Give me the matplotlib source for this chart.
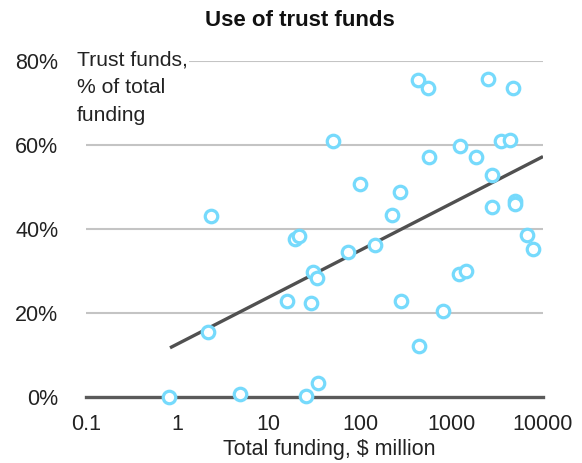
import matplotlib
matplotlib.use('Agg')
from matplotlib import pyplot as plt
from matplotlib.ticker import FixedLocator, FuncFormatter

# total funding, $ million
funding = [433, 556, 2483, 4732, 50.8, 1236, 3467, 4355, 570, 1837,
           99.5, 2786, 272, 224, 2742, 4943, 4900, 6730, 2.31, 19.5,
           21.5, 15.7, 2.18, 0.81, 4.84, 28.7, 30.7, 33.4, 73, 145,
           277, 800, 444, 1213, 1439, 7709, 34.8, 25.5]
# trust funds, % of total funding
trust_pct = [75.5, 73.6, 75.7, 73.6, 61.0, 59.8, 61.0, 61.2, 57.2, 57.2,
             50.6, 52.7, 48.8, 43.4, 45.2, 46.6, 45.8, 38.5, 43.0, 37.6,
             38.3, 22.9, 15.5, 0.0, 0.7, 22.3, 29.8, 28.4, 34.5, 36.1,
             22.9, 20.4, 12.2, 29.2, 30.0, 35.1, 3.3, 0.3]

# fitted trend line end points
fit_x = [0.83, 10000]
fit_y = [11.7, 57.2]

x_ticks = [0.1, 1, 10, 100, 1000, 10000]
x_labels = ['0.1', '1', '10', '100', '1000', '10000']
y_ticks = [0, 20, 40, 60, 80]

plt.rcParams['font.family'] = ['Liberation Sans', 'DejaVu Sans']

fig = plt.figure(figsize=(5.82, 4.63), dpi=100)
ax = fig.add_axes([86 / 582, 1 - 397 / 463, (543 - 86) / 582, (397 - 60.7) / 463])

ax.set_xscale('log')
ax.set_xlim(0.1, 10000)
ax.set_ylim(0, 80)

for y in y_ticks[1:]:
	ax.axhline(y, color='#c4c4c4', lw=1.5, zorder=1)
ax.axhline(0, color='#5a5a5a', lw=2.4, zorder=2, clip_on=False)

ax.plot(fit_x, fit_y, color='#505050', lw=2.4, zorder=3, solid_capstyle='butt')
ax.plot(funding, trust_pct, 'o', ms=9, mfc='white', mec='#76dafc', mew=2.3,
	zorder=4, clip_on=False, ls='none')

for s in ax.spines.values():
	s.set_visible(False)

ax.xaxis.set_major_locator(FixedLocator(x_ticks))
ax.xaxis.set_minor_locator(FixedLocator([]))
ax.set_xticklabels(x_labels)
ax.set_yticks(y_ticks)
ax.yaxis.set_major_formatter(FuncFormatter(lambda v, p: '%d%%' % v))
ax.tick_params(axis='both', length=0, labelsize=15.5, colors='#222222')
ax.tick_params(axis='y', pad=20)
ax.tick_params(axis='x', pad=12)

fig.text(329 / 582, 1 - 450 / 463, 'Total funding, $ million', ha='center', va='center',
	fontsize=15.5, color='#222222')
fig.text(300 / 582, 1 - 20 / 463, 'Use of trust funds', ha='center', va='center',
	fontsize=16, fontweight='bold', color='#111111')
fig.text(77 / 582, 1 - 50 / 463, 'Trust funds,\n% of total\nfunding', ha='left', va='top',
	fontsize=15.2, color='#222222', linespacing=1.6, zorder=5,
	bbox=dict(fc='white', ec='none', pad=1))

fig.savefig('out.png', dpi=100)
